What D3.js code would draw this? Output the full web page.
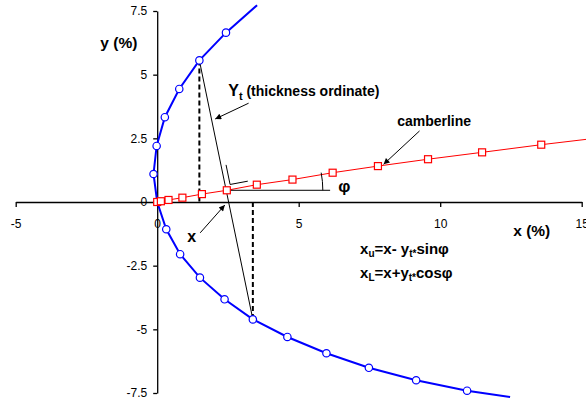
<!DOCTYPE html>
<html>
<head>
<meta charset="utf-8">
<script src="https://cdn.jsdelivr.net/npm/d3@7"></script>
<style>
  body { margin: 0; background: #fff; }
  svg { display: block; font-family: "Liberation Sans", Arial, sans-serif; }
  .axis path, .axis line { stroke: #000; stroke-width: 1.3; }
  .axis text { font-size: 12px; fill: #000; }
  .lbl { font-weight: bold; fill: #000; }
</style>
</head>
<body>
<svg id="chart" width="586" height="402"></svg>
<script>
"use strict";

// upper surface (x %, y %), last point runs off the frame
let upperX = [0, -0.13, -0.02, 0.27, 0.78, 1.49, 2.43, 3.53];
let upperY = [0, 1.10, 2.20, 3.33, 4.44, 5.56, 6.65, 7.73];
// lower surface
let lowerX = [0, 0.32, 0.81, 1.51, 2.38, 3.38, 4.60, 5.98, 7.48, 9.15, 10.95, 12.47];
let lowerY = [0, -1.07, -2.05, -2.97, -3.82, -4.61, -5.30, -5.94, -6.51, -7.00, -7.41, -7.66];
// camberline
let camberX = [0, 0.13, 0.40, 0.89, 1.58, 2.46, 3.52, 4.78, 6.20, 7.80, 9.57, 11.48, 13.57, 15.16];
let camberY = [0, 0.03, 0.08, 0.17, 0.31, 0.46, 0.68, 0.88, 1.15, 1.41, 1.68, 1.95, 2.25, 2.46];

let xTicks = [-5, 0, 5, 10, 15];
let xTickLabels = ['-5', '0', '5', '10', '15'];
let yTicks = [-7.5, -5, -2.5, 0, 2.5, 5, 7.5];
let yTickLabels = ['-7.5', '-5', '-2.5', '0', '2.5', '5', '7.5'];

// which points carry the construction
let upperIdx = 5, lowerIdx = 5, camberIdx = 5;
let upperMarked = upperX.length - 1;   // points with markers
let lowerMarked = lowerX.length - 1;
let camberMarked = camberX.length - 1;

let svg = d3.select('#chart');
let x = d3.scaleLinear().domain([-5, 15]).range([15.7, 581.7]);
let y = d3.scaleLinear().domain([-7.5, 7.5]).range([393, 11]);

let toPts = (xs, ys) => xs.map((v, i) => ({x: v, y: ys[i], i: i}));
let upper = toPts(upperX, upperY);
let lower = toPts(lowerX, lowerY);
let camber = toPts(camberX, camberY);

// axes crossing at origin
svg.append('g')
  .attr('class', 'axis')
  .attr('transform', `translate(0,${y(0)})`)
  .call(d3.axisBottom(x).tickValues(xTicks)
    .tickFormat((d, i) => xTickLabels[i])
    .tickSize(5).tickSizeOuter(0).tickPadding(12));
svg.append('g')
  .attr('class', 'axis')
  .attr('transform', `translate(${x(0)},0)`)
  .call(d3.axisLeft(y).tickValues(yTicks)
    .tickFormat((d, i) => yTickLabels[i])
    .tickSize(4).tickSizeOuter(0).tickPadding(6));
svg.selectAll('.axis text').attr('font-family', null);

let line = d3.line().x(d => x(d.x)).y(d => y(d.y));

// upper + lower surface, one blue line
let surface = upper.slice().reverse().concat(lower.slice(1));
svg.append('path')
  .attr('d', line(surface))
  .attr('fill', 'none')
  .attr('stroke', '#0000ff')
  .attr('stroke-width', 2);

svg.append('path')
  .attr('d', line(camber))
  .attr('fill', 'none')
  .attr('stroke', '#ff0000')
  .attr('stroke-width', 1);

// construction lines
let pU = upper[upperIdx], pL = lower[lowerIdx], pC = camber[camberIdx];
let black = '#000';
svg.append('line')
  .attr('x1', x(pU.x)).attr('y1', y(pU.y))
  .attr('x2', x(pU.x)).attr('y2', y(0))
  .attr('stroke', black).attr('stroke-width', 2).attr('stroke-dasharray', '5,3');
svg.append('line')
  .attr('x1', x(pL.x)).attr('y1', y(0))
  .attr('x2', x(pL.x)).attr('y2', y(pL.y))
  .attr('stroke', black).attr('stroke-width', 2).attr('stroke-dasharray', '5,3');
svg.append('line')
  .attr('x1', x(pU.x)).attr('y1', y(pU.y))
  .attr('x2', x(pL.x)).attr('y2', y(pL.y))
  .attr('stroke', black).attr('stroke-width', 1);

// horizontal reference + angle arc
let hEnd = 6.11;
let cx = x(pC.x), cy = y(pC.y);
svg.append('line')
  .attr('x1', cx).attr('y1', cy)
  .attr('x2', x(hEnd)).attr('y2', cy)
  .attr('stroke', black).attr('stroke-width', 1);

let nxt = camber[camberIdx + 1];
let phi = Math.atan2(-(y(nxt.y) - cy), x(nxt.x) - cx);
let r = 96;
svg.append('path')
  .attr('d', `M${cx + r},${cy} A${r},${r} 0 0 0 ${cx + r * Math.cos(phi)},${cy - r * Math.sin(phi)}`)
  .attr('fill', 'none').attr('stroke', black).attr('stroke-width', 1);

// right-angle mark at the thickness / camber crossing
let ux = x(pU.x) - x(pL.x), uy = y(pU.y) - y(pL.y);
let ul = Math.hypot(ux, uy); ux /= ul; uy /= ul;
let vx = Math.cos(phi), vy = -Math.sin(phi);
let t = (cy - y(pL.y)) / uy;
let px0 = x(pL.x) + t * ux;
let corner = [px0 + 5 * ux + 5 * vx, cy + 5 * uy + 5 * vy];
svg.append('path')
  .attr('d', `M${corner[0] + 20 * ux},${corner[1] + 20 * uy} L${corner[0]},${corner[1]} L${corner[0] + 18 * vx},${corner[1] + 18 * vy}`)
  .attr('fill', 'none').attr('stroke', black).attr('stroke-width', 1);

// markers
svg.append('g').selectAll('circle')
  .data(upper.slice(1, upperMarked).concat(lower.slice(1, lowerMarked)))
  .join('circle')
    .attr('cx', d => x(d.x))
    .attr('cy', d => y(d.y))
    .attr('r', 3.7)
    .attr('fill', '#fff')
    .attr('stroke', '#0000ff')
    .attr('stroke-width', 1.2);

svg.append('g').selectAll('rect')
  .data(camber.slice(0, camberMarked))
  .join('rect')
    .attr('x', d => x(d.x) - 3.5)
    .attr('y', d => y(d.y) - 3.5)
    .attr('width', 7)
    .attr('height', 7)
    .attr('fill', '#fff')
    .attr('stroke', '#ff0000')
    .attr('stroke-width', 1.2);

// arrows
svg.append('defs').append('marker')
  .attr('id', 'head')
  .attr('viewBox', '0 0 10 10')
  .attr('refX', 10).attr('refY', 5)
  .attr('markerWidth', 8).attr('markerHeight', 6)
  .attr('markerUnits', 'userSpaceOnUse')
  .attr('orient', 'auto')
  .append('path').attr('d', 'M0,0 L10,5 L0,10 z').attr('fill', black);

let arrows = [
  {from: [3.23, 3.88], to: [2.05, 3.26]},
  {from: [9.27, 2.79], to: [8.00, 1.48]},
  {from: [1.52, -1.21], to: [2.39, -0.12]},
];
svg.append('g').selectAll('line')
  .data(arrows)
  .join('line')
    .attr('x1', d => x(d.from[0])).attr('y1', d => y(d.from[1]))
    .attr('x2', d => x(d.to[0])).attr('y2', d => y(d.to[1]))
    .attr('stroke', black).attr('stroke-width', 1)
    .attr('marker-end', 'url(#head)');

// labels
let label = (px, py, size) => svg.append('text')
  .attr('class', 'lbl')
  .attr('x', x(px)).attr('y', y(py))
  .style('font-size', size + 'px');

label(-2.01, 6.05, 15.5).text('y (%)');
label(12.58, -1.33, 15.5).text('x (%)');
label(8.48, 2.98, 14).text('camberline');
label(1.06, -1.57, 16).text('x');
label(6.40, 0.39, 17).text('φ');

let yt = label(2.51, 4.16, 16);
yt.append('tspan').text('Y');
yt.append('tspan').attr('dy', 4).style('font-size', '11px').text('t');
yt.append('tspan').attr('dy', -4).style('font-size', '14px').text(' (thickness ordinate)');

let f1 = label(7.17, -2.04, 15);
f1.append('tspan').text('x');
f1.append('tspan').attr('dy', 3).style('font-size', '10px').text('u');
f1.append('tspan').attr('dy', -3).text('=x- y');
f1.append('tspan').attr('dy', 3).style('font-size', '10px').text('t*');
f1.append('tspan').attr('dy', -3).text('sinφ');

let f2 = label(7.17, -2.98, 15);
f2.append('tspan').text('x');
f2.append('tspan').attr('dy', 3).style('font-size', '10px').text('L');
f2.append('tspan').attr('dy', -3).text('=x+y');
f2.append('tspan').attr('dy', 3).style('font-size', '10px').text('t*');
f2.append('tspan').attr('dy', -3).text('cosφ');
</script>
</body>
</html>
